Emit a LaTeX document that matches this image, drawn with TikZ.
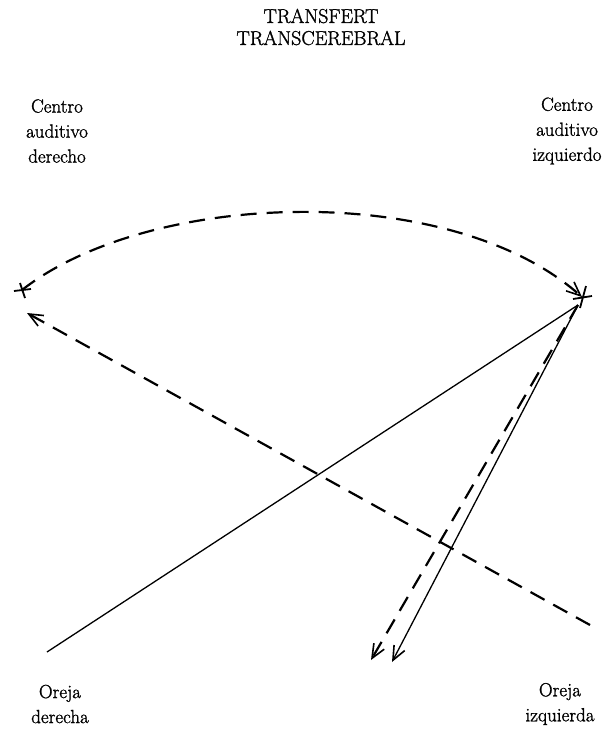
\documentclass[tikz,border=0pt]{standalone}
\usepackage{fontspec}
\setmainfont{Latin Modern Roman}[FakeBold=1.3]
\usetikzlibrary{arrows.meta}
\begin{document}
\begin{tikzpicture}[x=1pt,y=-1pt,
  lbl/.style={font=\fontsize{19}{25}\selectfont, align=center, inner sep=0pt},
  ttl/.style={font=\fontsize{20}{22}\selectfont, align=center, inner sep=0pt},
  dsh/.style={line width=2.2pt, dash pattern=on 16pt off 10pt},
  sol/.style={line width=1.3pt},
  tip/.style={-{Straight Barb[length=14pt,width=12pt,line width=1.6pt]}}
]
\useasboundingbox (0,0) rectangle (612,731);
% title
\node[ttl] (title) at (321,27) {TRANSFERT\\TRANSCEREBRAL};
% labels
\node[lbl] (lc) at (57,131) {Centro\\auditivo\\derecho};
\node[lbl] (rc) at (567,131) {Centro\\auditivo\\izquierdo};
\node[lbl] (le) at (60,704) {Oreja\\derecha};
\node[lbl] (re) at (560,704) {Oreja\\izquierda};
% points
\coordinate (L) at (22,290);
\coordinate (R) at (582,297);
\coordinate (Rs) at (578,305);
\coordinate (Ed) at (47,652);
\coordinate (Ei) at (590,625);
\coordinate (Ldst) at (27,313);
\coordinate (B1) at (371,660);
\coordinate (B2) at (392,662);
% crosses
\draw[line width=1.8pt] (14,291) -- (31,289) (20,283) -- (25,298);
\draw[line width=1.8pt] (573,299) -- (592,296) (586,286) -- (580,308);
% arc between the auditory centres
\draw[dsh,tip] (L) .. controls (150,190) and (450,180) .. (R);
% dashed diagonal
\draw[dsh,tip] (Ei) -- (Ldst);
% solid line
\draw[sol] (Ed) -- (Rs);
% down lines
\draw[dsh,tip] (Rs) -- (B1);
\draw[sol,tip] (Rs) -- (B2);
\end{tikzpicture}
\end{document}
